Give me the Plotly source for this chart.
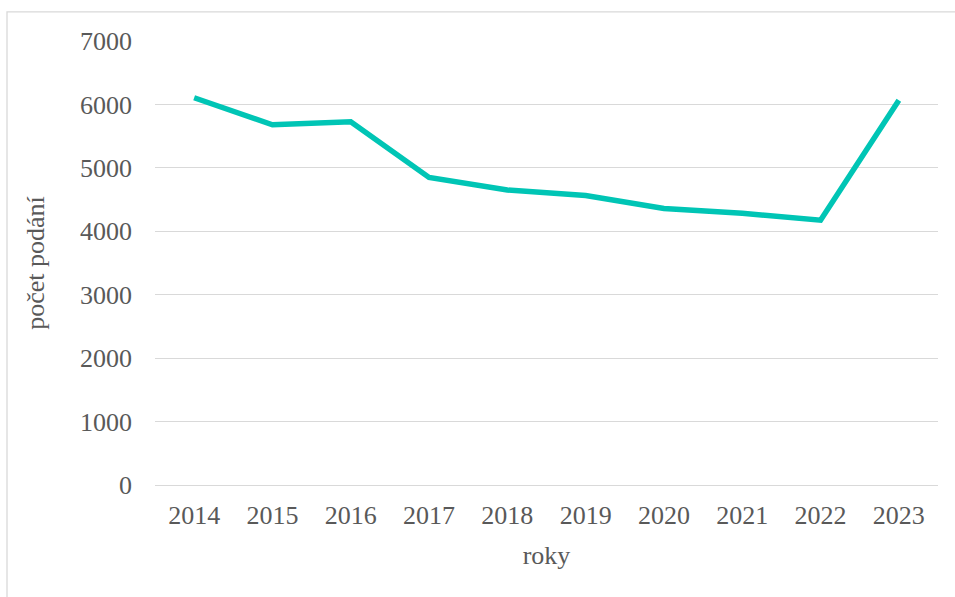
import plotly.graph_objects as go

years = ["2014", "2015", "2016", "2017", "2018", "2019", "2020", "2021", "2022", "2023"]
podani = [6105, 5680, 5725, 4850, 4650, 4565, 4360, 4285, 4175, 6065]
y_ticks = [0, 1000, 2000, 3000, 4000, 5000, 6000, 7000]

font = "Liberation Serif, Times New Roman, serif"
grey = "#595959"

fig = go.Figure()
fig.add_trace(go.Scatter(
    x=years, y=podani, mode="lines",
    line=dict(color="#00C5B5", width=5.5),
    showlegend=False, hoverinfo="x+y",
))

fig.update_layout(
    width=955, height=597,
    margin=dict(l=155, r=17, t=41, b=112),
    paper_bgcolor="white", plot_bgcolor="white",
    font=dict(family=font, size=26, color=grey),
    xaxis=dict(
        type="category", range=[-0.5, 9.5], showgrid=False, zeroline=False,
        showline=False, ticks="", ticklabelstandoff=12,
        title=dict(text="roky", font=dict(family=font, size=26, color=grey), standoff=16),
    ),
    yaxis=dict(
        range=[0, 7000], tickvals=y_ticks, ticktext=[str(v) for v in y_ticks],
        showgrid=True, gridcolor="#d9d9d9", gridwidth=1.3,
        zeroline=True, zerolinecolor="#d9d9d9", zerolinewidth=1.3,
        showline=False, ticks="", ticklabelstandoff=22,
        title=dict(text="počet podání", font=dict(family=font, size=26, color=grey), standoff=27),
    ),
    shapes=[dict(
        type="rect", xref="paper", yref="paper",
        x0=(7 - 155) / 783, x1=(965 - 155) / 783,
        y0=(485 - 610) / 444.3, y1=(485 - 11.5) / 444.3,
        line=dict(color="#d9d9d9", width=1.3), fillcolor="rgba(0,0,0,0)", layer="below",
    )],
)

fig.write_html(
    "out.html",
    config={"displayModeBar": False},
    post_script="document.body.style.margin='0';document.body.style.overflow='hidden';",
)
